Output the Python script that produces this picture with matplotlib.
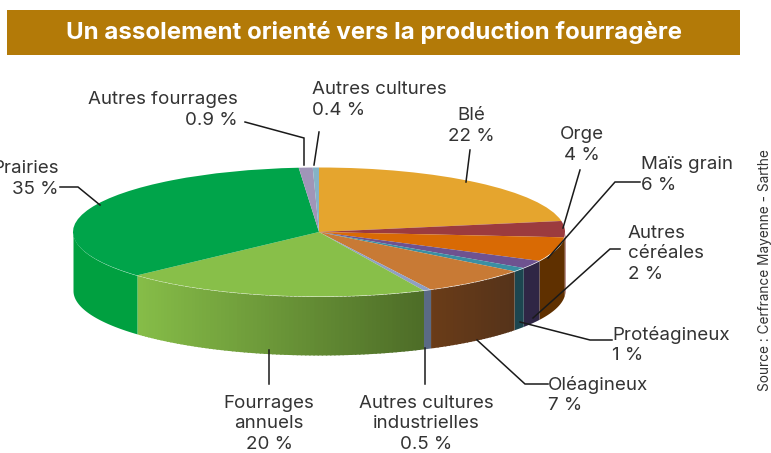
import matplotlib
matplotlib.use("Agg")
import matplotlib.pyplot as plt
from matplotlib.colors import to_rgb
import numpy as np

plt.rcParams['font.family'] = ['Inter', 'DejaVu Sans']

# data, clockwise from the top
names = ['Blé', 'Orge', 'Maïs grain', 'Autres céréales', 'Protéagineux', 'Oléagineux',
         'Autres cultures industrielles', 'Fourrages annuels', 'Prairies',
         'Autres fourrages', 'Autres cultures']
values = [22, 4, 6, 2, 1, 7, 0.5, 20, 35, 0.9, 0.4]

top_colors = ['#e5a52e', '#9c3b3e', '#d96a04', '#6e5290', '#3a8fa3', '#c87a35',
              '#8f9fc4', '#88bf49', '#00a44a', '#a095b8', '#85b3c6']
# side of the cylinder: colour at the left end and at the right end of each slice
side_left = ['#a8801f', '#7a2c2c', '#5f3000', '#2f2645', '#1c4650', '#6a3c18',
             '#5a6a85', '#86bd48', '#00a040', '#a095b8', '#85b3c6']
side_right = ['#a8801f', '#7a2c2c', '#5f3000', '#2f2645', '#1c4650', '#55331a',
              '#5a6a85', '#4d6c27', '#00a040', '#a095b8', '#85b3c6']

title = 'Un assolement orienté vers la production fourragère'
source = 'Source : Cerfrance Mayenne - Sarthe'

W, H = 771, 453
cx, cy, rx, ry = 319, 232, 246, 64.5
depth = 58.5 / ry

fig = plt.figure(figsize=(W / 100, H / 100), dpi=100)

# pie axes, unit circle squashed into the ellipse
ax = fig.add_axes([0, 0, 1, 1])
ax.pie(values, startangle=90, counterclock=False,
       colors=top_colors, wedgeprops={'linewidth': 0, 'zorder': 3})
ax.set_aspect('auto')
ax.set_xlim(-cx / rx, (W - cx) / rx)
ax.set_ylim((cy - H) / ry, cy / ry)
ax.axis('off')

# side of the pie, front half only
edges = np.radians(np.cumsum([0] + values) / sum(values) * 360)
for i in range(len(values)):
    t0 = max(edges[i], np.pi / 2)
    t1 = min(edges[i + 1], 3 * np.pi / 2)
    if t0 >= t1:
        continue
    c_left = np.array(to_rgb(side_left[i]))
    c_right = np.array(to_rgb(side_right[i]))
    # flat slices are one polygon, only the gradient ones need strips
    n = 2 if side_left[i] == side_right[i] else max(2, int((t1 - t0) * 60))
    ts = np.linspace(t0, t1, n)
    x_left, x_right = np.sin(t1), np.sin(t0)
    for a, b in zip(ts[:-1], ts[1:]):
        # each strip runs a bit under the next one so no seams show
        tt = np.linspace(a, min(b + 0.006, t1), 40 if n == 2 else 6)
        x = np.sin(tt)
        y = np.cos(tt)
        f = (x.mean() - x_left) / max(x_right - x_left, 1e-6)
        col = c_left + (c_right - c_left) * f
        ax.fill_between(x, y - depth, y, color=col, linewidth=0, zorder=2)

# overlay in pixel coordinates for banner, labels and leader lines
px = fig.add_axes([0, 0, 1, 1])
px.set_xlim(0, W)
px.set_ylim(H, 0)
px.axis('off')
px.patch.set_alpha(0)

px.fill_between([7, 740], 10, 55, color='#b37a08', linewidth=0)
px.text(373.5, 33, title, color='white', fontsize=17.3, fontweight='bold',
        ha='center', va='center')

leaders = [
    ([60, 78, 100], [187, 187, 205]),
    ([245, 304, 304], [122, 138, 165]),
    ([319, 314], [132, 165]),
    ([470, 466], [150, 182]),
    ([580, 563], [170, 228]),
    ([640, 615, 548], [182, 182, 258]),
    ([620, 610, 533], [249, 249, 318]),
    ([612, 590, 520], [340, 340, 322]),
    ([548, 525, 477], [384, 384, 340]),
    ([269, 269], [350, 384]),
    ([425, 425], [348, 384]),
]
for xs, ys in leaders:
    px.plot(xs, ys, color='#1a1a1a', linewidth=1.1, solid_joinstyle='miter')

labels = [
    ('Prairies\n35 %', 59, 179, 'right'),
    ('Autres fourrages\n0.9 %', 238, 110, 'right'),
    ('Autres cultures\n0.4 %', 312, 100, 'left'),
    ('Blé\n22 %', 471, 126, 'center'),
    ('Orge\n4 %', 582, 145, 'center'),
    ('Maïs grain\n6 %', 641, 175, 'left'),
    ('Autres\ncéréales\n2 %', 628, 254, 'left'),
    ('Protéagineux\n1 %', 612, 345, 'left'),
    ('Oléagineux\n7 %', 548, 395, 'left'),
    ('Fourrages\nannuels\n20 %', 269, 424, 'center'),
    ('Autres cultures\nindustrielles\n0.5 %', 426, 424, 'center'),
]
for txt, x, y, ha in labels:
    px.text(x, y, txt, fontsize=13.5, color='#333333', ha=ha, va='center',
            linespacing=1.3, multialignment=ha)

px.text(765, 270, source, fontsize=9.8, color='#333333', rotation=90,
        ha='center', va='center')

fig.savefig('out.png', dpi=100)
